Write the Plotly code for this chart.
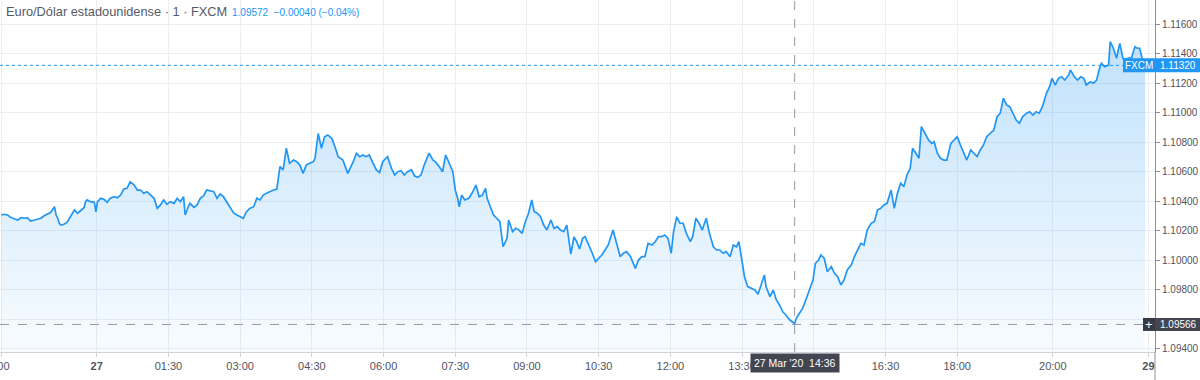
import plotly.graph_objects as go

# ---------------- data ----------------
TIMES = [
    "2020-03-26 22:00", "2020-03-26 22:04", "2020-03-26 22:08", "2020-03-26 22:12", "2020-03-26 22:17",
    "2020-03-26 22:21", "2020-03-26 22:25", "2020-03-26 22:29", "2020-03-26 22:33", "2020-03-26 22:37",
    "2020-03-26 22:42", "2020-03-26 22:46", "2020-03-26 22:50", "2020-03-26 22:54", "2020-03-26 22:58",
    "2020-03-26 23:02", "2020-03-26 23:07", "2020-03-26 23:09", "2020-03-26 23:11", "2020-03-26 23:13",
    "2020-03-26 23:15", "2020-03-26 23:19", "2020-03-26 23:23", "2020-03-26 23:27", "2020-03-26 23:32",
    "2020-03-26 23:36", "2020-03-26 23:40", "2020-03-26 23:44", "2020-03-26 23:46", "2020-03-26 23:48",
    "2020-03-26 23:52", "2020-03-26 23:57", "2020-03-26 23:59",
    "2020-03-27 00:01", "2020-03-27 00:05", "2020-03-27 00:09", "2020-03-27 00:13", "2020-03-27 00:17",
    "2020-03-27 00:22", "2020-03-27 00:26", "2020-03-27 00:30", "2020-03-27 00:34", "2020-03-27 00:38",
    "2020-03-27 00:42", "2020-03-27 00:47", "2020-03-27 00:51", "2020-03-27 00:55", "2020-03-27 00:59",
    "2020-03-27 01:03", "2020-03-27 01:07", "2020-03-27 01:12", "2020-03-27 01:16", "2020-03-27 01:20",
    "2020-03-27 01:24", "2020-03-27 01:28", "2020-03-27 01:32", "2020-03-27 01:37", "2020-03-27 01:41",
    "2020-03-27 01:45", "2020-03-27 01:49", "2020-03-27 01:51", "2020-03-27 01:55", "2020-03-27 01:57",
    "2020-03-27 02:02", "2020-03-27 02:06", "2020-03-27 02:10", "2020-03-27 02:14", "2020-03-27 02:18",
    "2020-03-27 02:22", "2020-03-27 02:27", "2020-03-27 02:31", "2020-03-27 02:35", "2020-03-27 02:39",
    "2020-03-27 02:43", "2020-03-27 02:47", "2020-03-27 02:52", "2020-03-27 02:56", "2020-03-27 03:00",
    "2020-03-27 03:04", "2020-03-27 03:08", "2020-03-27 03:12", "2020-03-27 03:17", "2020-03-27 03:21",
    "2020-03-27 03:25", "2020-03-27 03:29", "2020-03-27 03:33", "2020-03-27 03:37", "2020-03-27 03:42",
    "2020-03-27 03:46", "2020-03-27 03:50", "2020-03-27 03:54", "2020-03-27 03:58", "2020-03-27 04:02",
    "2020-03-27 04:07", "2020-03-27 04:11", "2020-03-27 04:15", "2020-03-27 04:19", "2020-03-27 04:23",
    "2020-03-27 04:27", "2020-03-27 04:32", "2020-03-27 04:34", "2020-03-27 04:38", "2020-03-27 04:42",
    "2020-03-27 04:46", "2020-03-27 04:50", "2020-03-27 04:55", "2020-03-27 04:59", "2020-03-27 05:03",
    "2020-03-27 05:09", "2020-03-27 05:15", "2020-03-27 05:22", "2020-03-27 05:26", "2020-03-27 05:30",
    "2020-03-27 05:34", "2020-03-27 05:38", "2020-03-27 05:42", "2020-03-27 05:47", "2020-03-27 05:51",
    "2020-03-27 05:55", "2020-03-27 05:59", "2020-03-27 06:03", "2020-03-27 06:05", "2020-03-27 06:10",
    "2020-03-27 06:14", "2020-03-27 06:18", "2020-03-27 06:22", "2020-03-27 06:26", "2020-03-27 06:30",
    "2020-03-27 06:35", "2020-03-27 06:39", "2020-03-27 06:43", "2020-03-27 06:47", "2020-03-27 06:51",
    "2020-03-27 06:57", "2020-03-27 07:02", "2020-03-27 07:06", "2020-03-27 07:10", "2020-03-27 07:14",
    "2020-03-27 07:18", "2020-03-27 07:22", "2020-03-27 07:27", "2020-03-27 07:30", "2020-03-27 07:33",
    "2020-03-27 07:35", "2020-03-27 07:38", "2020-03-27 07:42", "2020-03-27 07:47", "2020-03-27 07:51",
    "2020-03-27 07:56", "2020-03-27 08:00", "2020-03-27 08:04", "2020-03-27 08:08", "2020-03-27 08:10",
    "2020-03-27 08:14", "2020-03-27 08:18", "2020-03-27 08:22", "2020-03-27 08:26", "2020-03-27 08:30",
    "2020-03-27 08:35", "2020-03-27 08:37", "2020-03-27 08:42", "2020-03-27 08:46", "2020-03-27 08:50",
    "2020-03-27 08:54", "2020-03-27 08:58", "2020-03-27 09:02", "2020-03-27 09:06", "2020-03-27 09:09",
    "2020-03-27 09:13", "2020-03-27 09:17", "2020-03-27 09:21", "2020-03-27 09:25", "2020-03-27 09:30",
    "2020-03-27 09:34", "2020-03-27 09:38", "2020-03-27 09:42", "2020-03-27 09:46", "2020-03-27 09:50",
    "2020-03-27 09:55", "2020-03-27 09:59", "2020-03-27 10:02", "2020-03-27 10:06", "2020-03-27 10:10",
    "2020-03-27 10:13", "2020-03-27 10:17", "2020-03-27 10:22", "2020-03-27 10:26", "2020-03-27 10:30",
    "2020-03-27 10:34", "2020-03-27 10:38", "2020-03-27 10:42", "2020-03-27 10:48", "2020-03-27 10:53",
    "2020-03-27 10:57", "2020-03-27 11:01", "2020-03-27 11:05", "2020-03-27 11:10", "2020-03-27 11:16",
    "2020-03-27 11:20", "2020-03-27 11:24", "2020-03-27 11:28", "2020-03-27 11:32", "2020-03-27 11:37",
    "2020-03-27 11:41", "2020-03-27 11:45", "2020-03-27 11:49", "2020-03-27 11:53", "2020-03-27 11:57",
    "2020-03-27 12:01", "2020-03-27 12:04", "2020-03-27 12:08", "2020-03-27 12:12", "2020-03-27 12:16",
    "2020-03-27 12:20", "2020-03-27 12:25", "2020-03-27 12:28", "2020-03-27 12:32", "2020-03-27 12:36",
    "2020-03-27 12:40", "2020-03-27 12:45", "2020-03-27 12:49", "2020-03-27 12:54", "2020-03-27 12:58",
    "2020-03-27 13:02", "2020-03-27 13:06", "2020-03-27 13:10", "2020-03-27 13:15", "2020-03-27 13:19",
    "2020-03-27 13:23", "2020-03-27 13:26", "2020-03-27 13:29", "2020-03-27 13:33", "2020-03-27 13:37",
    "2020-03-27 13:42", "2020-03-27 13:46", "2020-03-27 13:50", "2020-03-27 13:54", "2020-03-27 13:58",
    "2020-03-27 14:00", "2020-03-27 14:05", "2020-03-27 14:09", "2020-03-27 14:13", "2020-03-27 14:17",
    "2020-03-27 14:21", "2020-03-27 14:25", "2020-03-27 14:30", "2020-03-27 14:36", "2020-03-27 14:38",
    "2020-03-27 14:42", "2020-03-27 14:46", "2020-03-27 14:50", "2020-03-27 14:55", "2020-03-27 14:59",
    "2020-03-27 15:02", "2020-03-27 15:06", "2020-03-27 15:09", "2020-03-27 15:13", "2020-03-27 15:17",
    "2020-03-27 15:22", "2020-03-27 15:26", "2020-03-27 15:30", "2020-03-27 15:34", "2020-03-27 15:38",
    "2020-03-27 15:42", "2020-03-27 15:47", "2020-03-27 15:51", "2020-03-27 15:55", "2020-03-27 15:59",
    "2020-03-27 16:03", "2020-03-27 16:07", "2020-03-27 16:12", "2020-03-27 16:16", "2020-03-27 16:20",
    "2020-03-27 16:24", "2020-03-27 16:28", "2020-03-27 16:32", "2020-03-27 16:37", "2020-03-27 16:41",
    "2020-03-27 16:45", "2020-03-27 16:49", "2020-03-27 16:53", "2020-03-27 16:57", "2020-03-27 17:01",
    "2020-03-27 17:04", "2020-03-27 17:08", "2020-03-27 17:12", "2020-03-27 17:15", "2020-03-27 17:20",
    "2020-03-27 17:24", "2020-03-27 17:28", "2020-03-27 17:31", "2020-03-27 17:35", "2020-03-27 17:39",
    "2020-03-27 17:43", "2020-03-27 17:47", "2020-03-27 17:52", "2020-03-27 17:56", "2020-03-27 18:00",
    "2020-03-27 18:04", "2020-03-27 18:08", "2020-03-27 18:12", "2020-03-27 18:17", "2020-03-27 18:21",
    "2020-03-27 18:25", "2020-03-27 18:29", "2020-03-27 18:33", "2020-03-27 18:37", "2020-03-27 18:42",
    "2020-03-27 18:46", "2020-03-27 18:50", "2020-03-27 18:54", "2020-03-27 18:58", "2020-03-27 19:02",
    "2020-03-27 19:06", "2020-03-27 19:10", "2020-03-27 19:14", "2020-03-27 19:18", "2020-03-27 19:22",
    "2020-03-27 19:27", "2020-03-27 19:31", "2020-03-27 19:35", "2020-03-27 19:39", "2020-03-27 19:43",
    "2020-03-27 19:47", "2020-03-27 19:52", "2020-03-27 19:56", "2020-03-27 19:59", "2020-03-27 20:03",
    "2020-03-27 20:07", "2020-03-27 20:11", "2020-03-27 20:15", "2020-03-27 20:20", "2020-03-27 20:22",
    "2020-03-27 20:27", "2020-03-27 20:31", "2020-03-27 20:35", "2020-03-27 20:39", "2020-03-27 20:42",
    "2020-03-27 20:47", "2020-03-27 20:51", "2020-03-27 20:55", "2020-03-27 20:58", "2020-03-27 21:01",
    "2020-03-27 21:05", "2020-03-27 21:10", "2020-03-27 21:12", "2020-03-27 21:16", "2020-03-27 21:20",
    "2020-03-27 21:24", "2020-03-27 21:28", "2020-03-27 21:32", "2020-03-27 21:39", "2020-03-27 21:43",
    "2020-03-27 21:46", "2020-03-27 21:49", "2020-03-27 21:52", "2020-03-27 21:56",
]

PRICES = [
    1.10307, 1.10312, 1.10307, 1.10291, 1.10280, 1.10273, 1.10289, 1.10285, 1.10289, 1.10266,
    1.10273, 1.10278, 1.10285, 1.10302, 1.10312, 1.10323, 1.10363, 1.10307, 1.10285, 1.10251,
    1.10239, 1.10244, 1.10258, 1.10295, 1.10341, 1.10319, 1.10341, 1.10356, 1.10397, 1.10409,
    1.10397, 1.10393, 1.10329,
    1.10397, 1.10420, 1.10413, 1.10393, 1.10420, 1.10431, 1.10424, 1.10442, 1.10483, 1.10488,
    1.10532, 1.10510, 1.10476, 1.10476, 1.10454, 1.10465, 1.10442, 1.10420, 1.10352, 1.10375,
    1.10409, 1.10379, 1.10397, 1.10386, 1.10420, 1.10397, 1.10431, 1.10307, 1.10363, 1.10386,
    1.10359, 1.10375, 1.10420, 1.10436, 1.10476, 1.10472, 1.10465, 1.10420, 1.10449, 1.10431,
    1.10397, 1.10359, 1.10319, 1.10307, 1.10295, 1.10285, 1.10329, 1.10352, 1.10363, 1.10420,
    1.10409, 1.10442, 1.10454, 1.10465, 1.10476, 1.10481, 1.10634, 1.10612, 1.10759, 1.10657,
    1.10679, 1.10668, 1.10645, 1.10589, 1.10645, 1.10657, 1.10668, 1.10691, 1.10860, 1.10759,
    1.10837, 1.10849, 1.10826, 1.10769, 1.10702, 1.10679, 1.10589, 1.10668, 1.10725, 1.10702,
    1.10713, 1.10702, 1.10713, 1.10657, 1.10612, 1.10595, 1.10668, 1.10691, 1.10702, 1.10623,
    1.10578, 1.10600, 1.10607, 1.10578, 1.10600, 1.10612, 1.10571, 1.10562, 1.10578, 1.10645,
    1.10725, 1.10679, 1.10661, 1.10634, 1.10600, 1.10713, 1.10657, 1.10600, 1.10476, 1.10420,
    1.10363, 1.10442, 1.10409, 1.10420, 1.10454, 1.10510, 1.10431, 1.10442, 1.10488, 1.10420,
    1.10363, 1.10307, 1.10285, 1.10262, 1.10092, 1.10149, 1.10273, 1.10194, 1.10217, 1.10205,
    1.10183, 1.10262, 1.10319, 1.10409, 1.10329, 1.10319, 1.10295, 1.10239, 1.10205, 1.10273,
    1.10217, 1.10228, 1.10205, 1.10194, 1.10239, 1.10043, 1.10158, 1.10131, 1.10077, 1.10151,
    1.10160, 1.10115, 1.10048, 1.09991, 1.10014, 1.10036, 1.10070, 1.10104, 1.10205, 1.10104,
    1.10025, 1.10048, 1.10059, 1.10025, 1.09946, 1.10002, 1.10025, 1.10025, 1.10115, 1.10104,
    1.10126, 1.10160, 1.10160, 1.10172, 1.10149, 1.10048, 1.10194, 1.10295, 1.10251, 1.10251,
    1.10183, 1.10126, 1.10160, 1.10285, 1.10251, 1.10205, 1.10285, 1.10183, 1.10092, 1.10070,
    1.10070, 1.10048, 1.10059, 1.10025, 1.10104, 1.10092, 1.10126, 1.10025, 1.09889, 1.09822,
    1.09811, 1.09799, 1.09771, 1.09833, 1.09901, 1.09822, 1.09754, 1.09799, 1.09732, 1.09698,
    1.09652, 1.09630, 1.09596, 1.09572, 1.09608, 1.09642, 1.09675, 1.09732, 1.09811, 1.09867,
    1.09980, 1.10002, 1.10036, 1.10014, 1.09923, 1.09957, 1.09912, 1.09889, 1.09833, 1.09867,
    1.09935, 1.09968, 1.10025, 1.10070, 1.10115, 1.10104, 1.10205, 1.10251, 1.10262, 1.10341,
    1.10352, 1.10375, 1.10386, 1.10476, 1.10352, 1.10454, 1.10522, 1.10499, 1.10578, 1.10623,
    1.10759, 1.10725, 1.10691, 1.10905, 1.10860, 1.10815, 1.10792, 1.10803, 1.10725, 1.10691,
    1.10679, 1.10679, 1.10792, 1.10815, 1.10837, 1.10781, 1.10725, 1.10679, 1.10747, 1.10725,
    1.10702, 1.10747, 1.10781, 1.10837, 1.10860, 1.10882, 1.10972, 1.10996, 1.11097, 1.11052,
    1.11040, 1.10996, 1.10950, 1.10928, 1.10972, 1.10996, 1.11006, 1.10984, 1.11006, 1.10996,
    1.11040, 1.11131, 1.11176, 1.11232, 1.11187, 1.11232, 1.11243, 1.11221, 1.11255, 1.11289,
    1.11243, 1.11221, 1.11243, 1.11232, 1.11187, 1.11209, 1.11199, 1.11221, 1.11289, 1.11334,
    1.11311, 1.11322, 1.11480, 1.11436, 1.11368, 1.11469, 1.11368, 1.11362, 1.11375, 1.11446,
    1.11436, 1.11436, 1.11370, 1.11320,
]

Y_TICKS = [1.094, 1.096, 1.098, 1.100, 1.102, 1.104, 1.106, 1.108, 1.110, 1.112, 1.114, 1.116]
Y_HIDDEN = [1.096]  # covered by the crosshair price label

X_TICK_TIMES = [
    "2020-03-26 22:00", "2020-03-27 00:00", "2020-03-27 01:30", "2020-03-27 03:00",
    "2020-03-27 04:30", "2020-03-27 06:00", "2020-03-27 07:30", "2020-03-27 09:00",
    "2020-03-27 10:30", "2020-03-27 12:00", "2020-03-27 13:30", "2020-03-27 15:00",
    "2020-03-27 16:30", "2020-03-27 18:00", "2020-03-27 20:00", "2020-03-27 22:00",
]
X_TICK_LABELS = [
    "22:00", "<b>27</b>", "01:30", "03:00", "04:30", "06:00", "07:30", "09:00",
    "10:30", "12:00", "13:30", "15:00", "16:30", "18:00", "20:00", "<b>29</b>",
]
X_HIDDEN = ["22:00", "15:00"]  # beyond the left edge / under the crosshair time label

SYMBOL = "Euro/Dólar estadounidense · 1 · FXCM"
SOURCE = "FXCM"
LAST_PRICE = 1.11320
CROSS_TIME = "2020-03-27 14:36"
CROSS_LABEL = "27 Mar '20  14:36"
CROSS_PRICE = 1.09566
CROSS_CLOSE = 1.09572
CHANGE = -0.00040
CHANGE_PCT = -0.04

# ---------------- layout constants ----------------
W, H = 1200, 380
ML, MR, MT, MB = 0, 45, 0, 28
PW, PH = W - ML - MR, H - MT - MB
Y_MIN, Y_MAX = 1.093795, 1.117625
X_MIN, X_MAX = "2020-03-26 21:58:36", "2020-03-27 22:08:15"
BLUE = "#2196f3"
DARK = "#434651"
FONT = "Liberation Sans"
PXY = (Y_MAX - Y_MIN) / PH


def px(xpix):
    return (xpix - ML) / PW


def py(ypix):
    return 1 - (ypix - MT) / PH


fig = go.Figure()
fig.add_trace(go.Scatter(
    x=TIMES, y=PRICES, mode="lines",
    line=dict(color=BLUE, width=1.7),
    fill="tozeroy",
    fillgradient=dict(
        type="vertical",
        colorscale=[[0, "rgba(33,150,243,0.03)"], [1, "rgba(33,150,243,0.28)"]],
        start=Y_MIN, stop=max(PRICES),
    ),
    hoverinfo="skip", showlegend=False,
))

ytext = ["" if v in Y_HIDDEN else f"{v:.5f}" for v in Y_TICKS]
xtext = ["" if t in X_HIDDEN else t for t in X_TICK_LABELS]

fig.update_layout(
    width=W, height=H,
    margin=dict(l=ML, r=MR, t=MT, b=MB, autoexpand=False),
    paper_bgcolor="white", plot_bgcolor="white",
    font=dict(family=FONT, color="#50535e"),
    xaxis=dict(
        type="date", range=[X_MIN, X_MAX], automargin=False,
        tickmode="array", tickvals=X_TICK_TIMES, ticktext=xtext,
        showgrid=True, gridcolor="#eceef2", gridwidth=1,
        showline=True, linecolor="#cfd2d8", linewidth=1,
        ticks="outside", ticklen=4, tickcolor="#cfd2d8",
        tickfont=dict(size=11, color="#50535e"),
        zeroline=False, fixedrange=True,
    ),
    yaxis=dict(
        side="right", range=[Y_MIN, Y_MAX], automargin=False,
        tickmode="array", tickvals=Y_TICKS, ticktext=ytext,
        showgrid=True, gridcolor="#eceef2", gridwidth=1,
        showline=True, linecolor="#8c8f99", linewidth=1,
        ticks="outside", ticklen=4, tickcolor="#8c8f99",
        tickfont=dict(size=10, color="#50535e"),
        zeroline=False, fixedrange=True,
    ),
)

shapes = []
# last price dotted line
shapes.append(dict(type="line", xref="paper", yref="y", x0=0, x1=1,
                   y0=LAST_PRICE, y1=LAST_PRICE,
                   line=dict(color=BLUE, width=1, dash="dot")))
# crosshair
shapes.append(dict(type="line", xref="x", yref="paper", x0=CROSS_TIME, x1=CROSS_TIME,
                   y0=0, y1=1, line=dict(color="#9598a1", width=1, dash="dash")))
shapes.append(dict(type="line", xref="paper", yref="y", x0=0, x1=1,
                   y0=CROSS_PRICE, y1=CROSS_PRICE,
                   line=dict(color="#9598a1", width=1, dash="dash")))
# price axis line extended to the bottom edge
shapes.append(dict(type="line", xref="paper", yref="paper", x0=1, x1=1,
                   y0=py(H), y1=0, line=dict(color="#8c8f99", width=1)))
# last price label box
shapes.append(dict(type="rect", xref="paper", yref="y", x0=px(1123), x1=px(W),
                   y0=LAST_PRICE - 7 * PXY, y1=LAST_PRICE + 7 * PXY,
                   fillcolor=BLUE, line=dict(width=0), layer="above"))
# crosshair price label boxes
shapes.append(dict(type="rect", xref="paper", yref="y", x0=px(1143), x1=px(1155),
                   y0=CROSS_PRICE - 6.5 * PXY, y1=CROSS_PRICE + 6.5 * PXY,
                   fillcolor="#363a45", line=dict(width=0), layer="above"))
shapes.append(dict(type="rect", xref="paper", yref="y", x0=px(1155), x1=px(W),
                   y0=CROSS_PRICE - 6.5 * PXY, y1=CROSS_PRICE + 6.5 * PXY,
                   fillcolor=DARK, line=dict(width=0), layer="above"))
fig.update_layout(shapes=shapes)

ann = []
ann.append(dict(xref="paper", yref="paper", x=px(4), y=py(12), xanchor="left", yanchor="middle",
                text=SYMBOL, showarrow=False,
                font=dict(family=FONT, size=12.8, color="#555a66")))
ann.append(dict(xref="paper", yref="paper", x=px(230), y=py(12.5), xanchor="left", yanchor="middle",
                text=f"{CROSS_CLOSE:.5f}  −{abs(CHANGE):.5f} (−{abs(CHANGE_PCT):.2f}%)",
                showarrow=False, font=dict(family=FONT, size=10, color=BLUE)))
# first time label, mostly outside the left edge
ann.append(dict(xref="paper", yref="paper", x=px(12), y=py(366), xanchor="right", yanchor="middle",
                text=X_TICK_LABELS[0], showarrow=False,
                font=dict(family=FONT, size=11, color="#50535e")))
ann.append(dict(xref="paper", yref="y", x=px(1139), y=LAST_PRICE, xanchor="center", yanchor="middle",
                text=SOURCE, showarrow=False, font=dict(family=FONT, size=10, color="white")))
ann.append(dict(xref="paper", yref="y", x=px(1178), y=LAST_PRICE, xanchor="center", yanchor="middle",
                text=f"{LAST_PRICE:.5f}", showarrow=False, font=dict(family=FONT, size=10, color="white")))
ann.append(dict(xref="paper", yref="y", x=px(1149), y=CROSS_PRICE, xanchor="center", yanchor="middle",
                text="+", showarrow=False, font=dict(family=FONT, size=13, color="white")))
ann.append(dict(xref="paper", yref="y", x=px(1178), y=CROSS_PRICE, xanchor="center", yanchor="middle",
                text=f"{CROSS_PRICE:.5f}", showarrow=False, font=dict(family=FONT, size=10, color="white")))
# crosshair time label (annotation with background so it covers axis labels)
ann.append(dict(xref="paper", yref="paper", x=px(794.5), y=py(362.5), xanchor="center", yanchor="middle",
                text=CROSS_LABEL, showarrow=False, bgcolor=DARK, borderpad=3,
                font=dict(family=FONT, size=10.5, color="white")))
fig.update_layout(annotations=ann)

fig.write_html(
    "out.html",
    config={"displayModeBar": False},
    post_script="document.body.style.margin='0';document.body.style.padding='0';",
)
